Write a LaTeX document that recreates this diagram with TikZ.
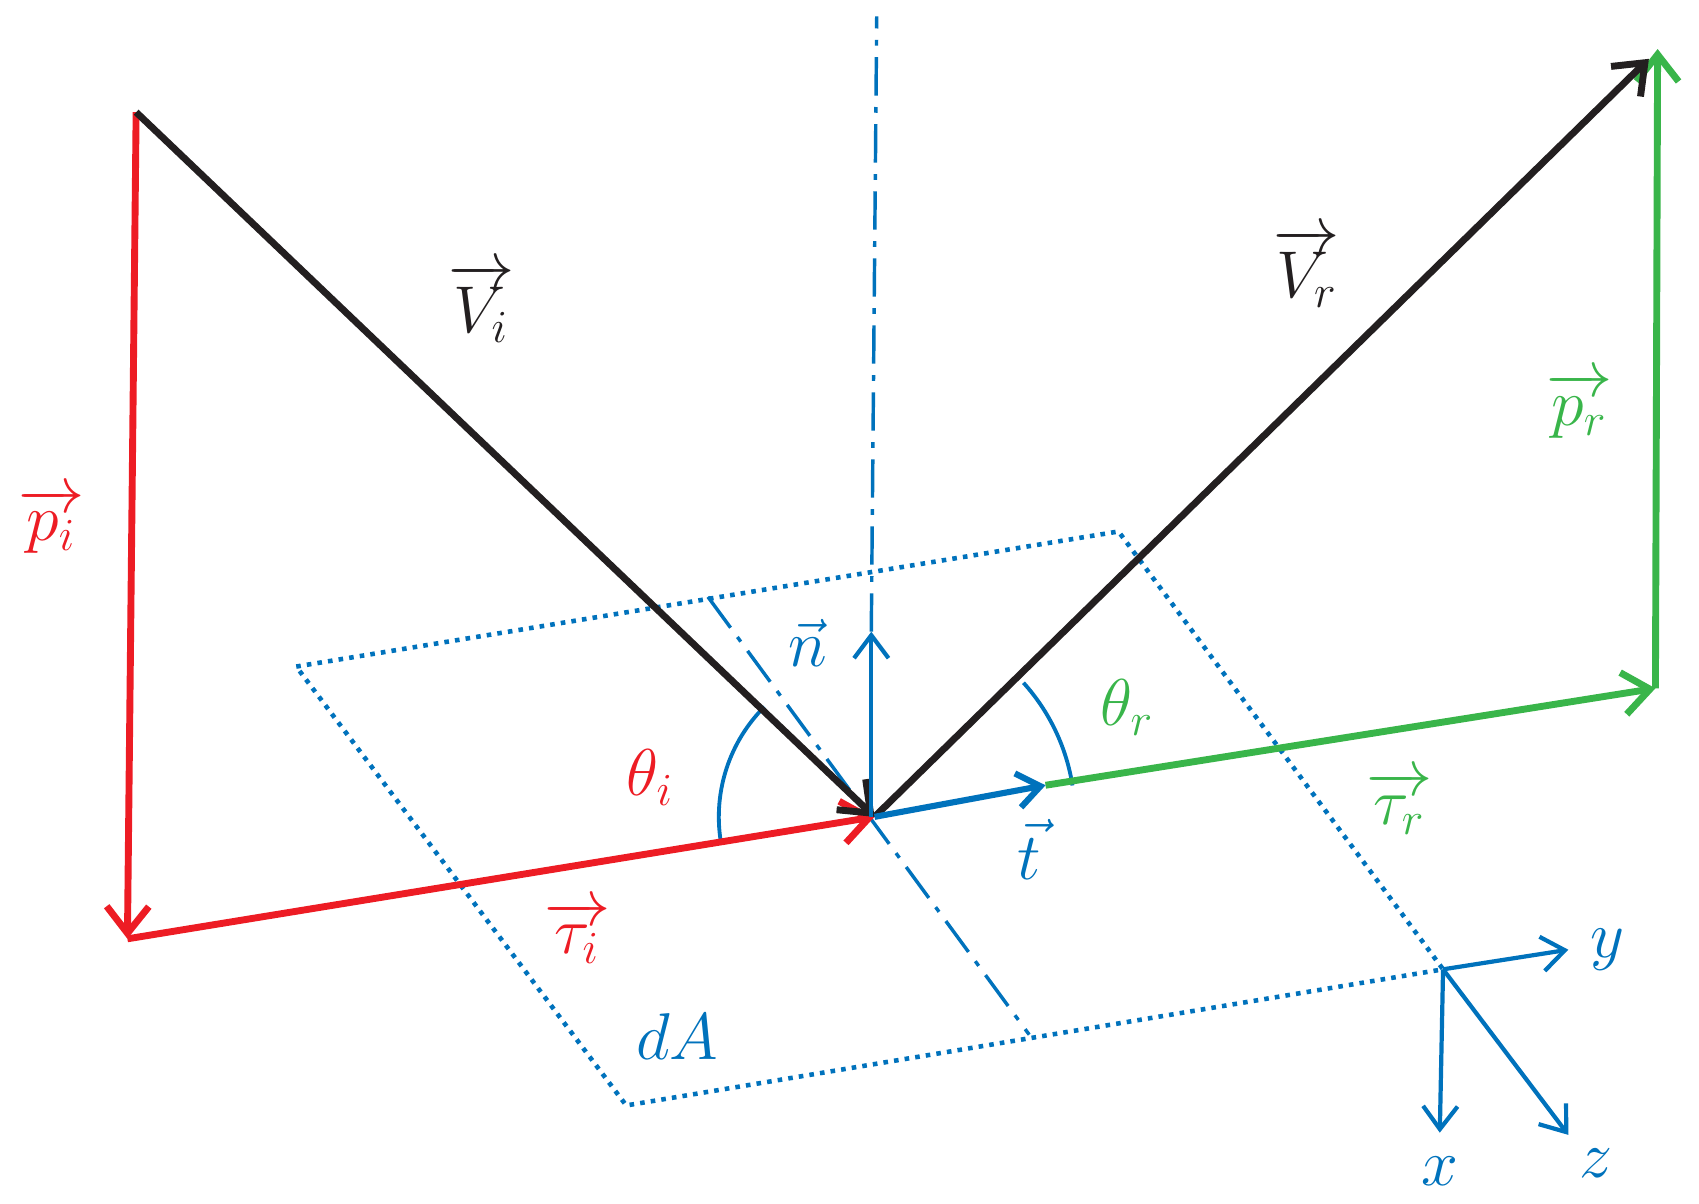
\documentclass[tikz,border=0pt]{standalone}
\usepackage{amsmath}
\usetikzlibrary{arrows.meta}
\definecolor{myred}{RGB}{237,28,36}
\definecolor{mygreen}{RGB}{57,181,74}
\definecolor{myblue}{RGB}{0,114,188}
\definecolor{myblack}{RGB}{35,31,32}
\begin{document}
\begin{tikzpicture}[x=0.01cm,y=-0.01cm,
  vec/.style={line width=1.8pt,-{Straight Barb[length=7pt,width=11pt]}},
  thin vec/.style={line width=1.1pt,-{Straight Barb[length=6pt,width=9pt]}},
  dots/.style={myblue,line width=1.2pt,dash pattern=on 1.2pt off 1.6pt},
  dashdot/.style={myblue,line width=0.9pt,dash pattern=on 10pt off 3pt on 1.5pt off 3pt},
  lbl/.style={font=\fontsize{17}{20}\selectfont}]
\useasboundingbox (0,0) rectangle (1560,1105);
\coordinate (O) at (803,750);
\coordinate (A) at (125,103);
\coordinate (B) at (117,862);
\coordinate (T) at (1522,45);
\coordinate (Tb) at (1514,54);
\coordinate (R) at (1520,632);
\coordinate (Tend) at (960,721);
\coordinate (Ntop) at (800,580);
\coordinate (Ltop) at (805,15);
\coordinate (D1) at (650,548);
\coordinate (D2) at (945,950);
\coordinate (P1) at (272,612);
\coordinate (P2) at (1027,488);
\coordinate (P3) at (1325,890);
\coordinate (P4) at (575,1015);
% plane
\draw[dots] (P1) -- (P2) -- (P3) -- (P4) -- cycle;
\draw[dashdot] (Ntop) -- (Ltop);
\draw[dashdot] (D1) -- (D2);
% arcs
\draw[myblue,line width=1pt] ([shift={(171:143)}]O) arc[start angle=171,end angle=225,radius=143];
\draw[myblue,line width=1pt] ([shift={(318:184)}]O) arc[start angle=318,end angle=351,radius=184];
% vectors
\draw[vec,myred] (A) -- (B);
\draw[vec,myred] (B) -- (O);
\draw[vec,myblack] (A) -- (O);
\draw[vec,mygreen] (R) -- (T);
\draw[vec,myblack] (O) -- (Tb);
\draw[vec,mygreen] (Tend) -- (R);
\draw[thin vec,myblue,line width=1.6pt] (O) -- (Tend);
\draw[thin vec,myblue] (800,750) -- (Ntop);
% axes
\draw[thin vec,myblue] (P3) -- (1440,872) node[right,lbl,xshift=2pt] {$y$};
\draw[thin vec,myblue] (P3) -- (1322,1040);
\draw[thin vec,myblue] (P3) -- (1440,1042);
% labels
\node[lbl,myblack] (lvi) at (442,278) {$\overrightarrow{V_i}$};
\node[lbl,myblack] (lvr) at (1200,246) {$\overrightarrow{V_r}$};
\node[lbl,myred] (lpi) at (47,478) {$\overrightarrow{p_i}$};
\node[lbl,mygreen] (lpr) at (1450,372) {$\overrightarrow{p_r}$};
\node[lbl,myred] (lti) at (530,856) {$\overrightarrow{\tau_i}$};
\node[lbl,mygreen] (ltr) at (1285,737) {$\overrightarrow{\tau_r}$};
\node[lbl,myblue] (ln) at (742,590) {$\vec{n}$};
\node[lbl,myblue] (lt) at (945,780) {$\vec{t}$};
\node[lbl,myred] (lthi) at (597,714) {$\theta_i$};
\node[lbl,mygreen] (lthr) at (1035,650) {$\theta_r$};
\node[lbl,myblue] (ldA) at (622,952) {$dA$};
\node[lbl,myblue] (lx) at (1322,1075) {$x$};
\node[lbl,myblue] (lz) at (1465,1068) {$z$};
\end{tikzpicture}
\end{document}
